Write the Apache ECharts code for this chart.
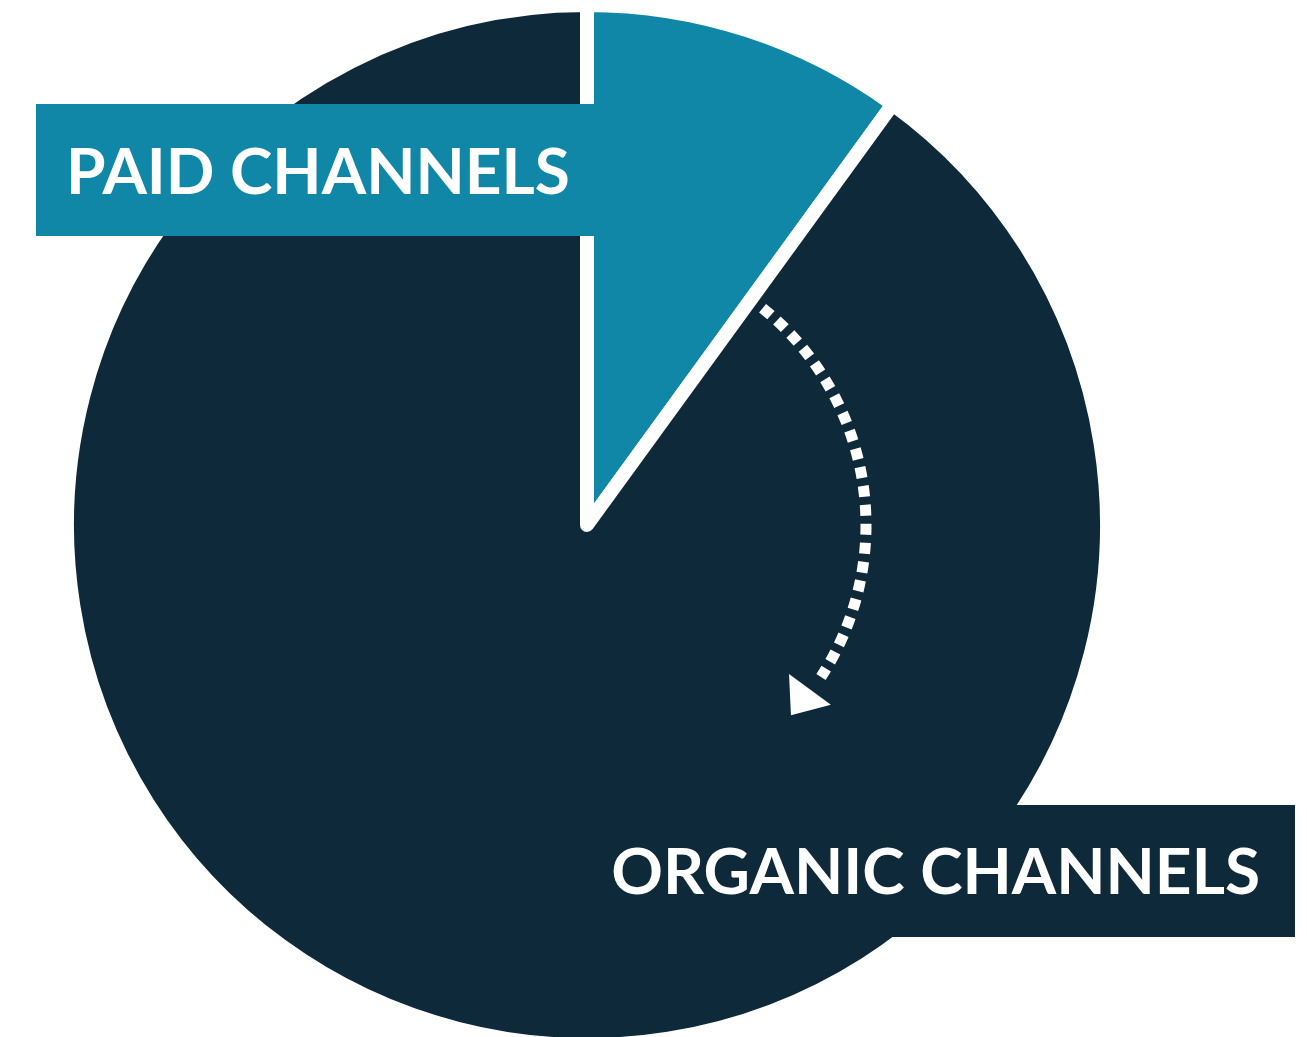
<!DOCTYPE html>
<html>
<head>
<meta charset="utf-8">
<script src="https://cdn.jsdelivr.net/npm/echarts@6/dist/echarts.min.js"></script>
<style>
  html, body { margin: 0; padding: 0; background: #fff; }
  #chart { width: 1307px; height: 1037px; }
</style>
</head>
<body>
<div id="chart"></div>
<script>
// data
var categories = ["PAID CHANNELS", "ORGANIC CHANNELS"];
var shares = [10, 90];
var colors = ["#1187a8", "#0e2939"];

var chart = echarts.init(document.getElementById("chart"));

// pie geometry
var cx = 587, cy = 525;

// dotted arrow round the organic side
var arcR = 279;
var arcFrom = 39, arcTo = 123, headAt = 126.4; // degrees clockwise from 12 o'clock
function rad(d) { return d * Math.PI / 180; }
function onArc(d, r) {
  return [cx + r * Math.sin(rad(d)), cy - r * Math.cos(rad(d))];
}
var mid = onArc(headAt, arcR - 2);
var tan = [Math.cos(rad(headAt)), Math.sin(rad(headAt))];
var nor = [Math.sin(rad(headAt)), -Math.cos(rad(headAt))];
var headLen = 32, headHalf = 26;
var headPts = [
  [mid[0] + nor[0] * headHalf, mid[1] + nor[1] * headHalf],
  [mid[0] - nor[0] * headHalf, mid[1] - nor[1] * headHalf],
  [mid[0] + tan[0] * headLen, mid[1] + tan[1] * headLen]
];

var labelFont = "bold 64px Lato, 'Noto Sans', sans-serif";

var option = {
  backgroundColor: "#fff",
  animation: false,
  series: [
    {
      type: "pie",
      center: [cx, cy],
      radius: 520,
      startAngle: 90,
      clockwise: true,
      silent: true,
      label: { show: false },
      labelLine: { show: false },
      itemStyle: {
        borderColor: "#fff",
        borderWidth: 14,
        borderJoin: "round"
      },
      data: categories.map(function (name, i) {
        return { name: name, value: shares[i], itemStyle: { color: colors[i] } };
      })
    }
  ],
  graphic: [
    // label boxes
    {
      type: "rect", z: 100, silent: true,
      shape: { x: 36, y: 104, width: 558, height: 132 },
      style: { fill: colors[0] }
    },
    {
      type: "text", z: 101, silent: true,
      x: 66, y: 173,
      style: { text: categories[0], fill: "#fff", font: labelFont, textVerticalAlign: "middle" }
    },
    {
      type: "rect", z: 100, silent: true,
      shape: { x: 600, y: 805, width: 695, height: 132 },
      style: { fill: colors[1] }
    },
    {
      type: "text", z: 101, silent: true,
      x: 1260, y: 873,
      style: { text: categories[1], fill: "#fff", font: labelFont, textAlign: "right", textVerticalAlign: "middle" }
    },
    // dotted arc
    {
      type: "arc", z: 100, silent: true,
      shape: { cx: cx, cy: cy, r: arcR, startAngle: rad(arcFrom - 90), endAngle: rad(arcTo - 90), clockwise: true },
      style: { stroke: "#fff", fill: null, lineWidth: 11, lineDash: [11, 8] }
    },
    {
      type: "polygon", z: 100, silent: true,
      shape: { points: headPts },
      style: { fill: "#fff" }
    }
  ]
};

chart.setOption(option);
</script>
</body>
</html>
